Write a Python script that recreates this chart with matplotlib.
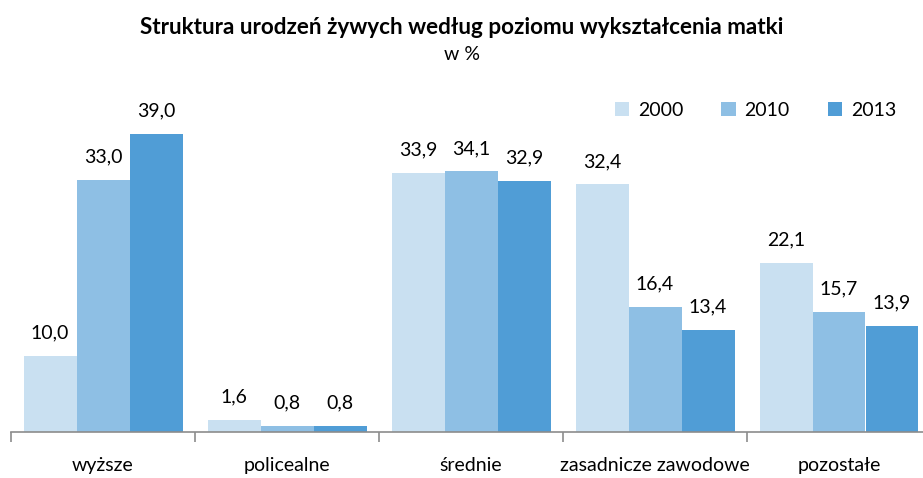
import matplotlib
matplotlib.use("Agg")
import matplotlib.pyplot as plt
import numpy as np

categories = ["wyższe", "policealne", "średnie", "zasadnicze zawodowe", "pozostałe"]
years = ["2000", "2010", "2013"]
v2000 = [10.0, 1.6, 33.9, 32.4, 22.1]
v2010 = [33.0, 0.8, 34.1, 16.4, 15.7]
v2013 = [39.0, 0.8, 32.9, 13.4, 13.9]
colors = ["#C9E0F1", "#8EBFE4", "#509DD6"]

plt.rcParams['font.family'] = ['Lato', 'DejaVu Sans']

W, H = 923, 478
fig = plt.figure(figsize=(W/100, H/100), dpi=100)
left_px, right_px = 11, 931
top_px, base_px = 70, 432
ax = fig.add_axes([left_px/W, 1 - base_px/H, (right_px-left_px)/W, (base_px-top_px)/H])

x = np.arange(len(categories))
bw = 53/184
series = [v2000, v2010, v2013]
for i, (vals, c, yr) in enumerate(zip(series, colors, years)):
    pos = x + (i - 1) * bw
    ax.bar(pos, vals, width=bw, color=c, label=yr, linewidth=0)
    for px_, v in zip(pos, vals):
        ax.text(px_, v + 1.9, f"{v:.1f}".replace(".", ","), ha="center", va="bottom",
                fontsize=14, color="#000000")

ax.set_xlim(-0.5, len(categories) - 0.5)
ax.set_ylim(0, (base_px - top_px) / (298/39))
for s in ["top", "right", "left"]:
    ax.spines[s].set_visible(False)
ax.spines["bottom"].set_color("#8C8C8C")
ax.spines["bottom"].set_linewidth(1.2)
ax.set_yticks([])
ax.set_xticks(np.arange(len(categories) + 1) - 0.5, minor=False)
ax.set_xticklabels([])
ax.tick_params(axis="x", which="major", length=7, color="#8C8C8C", width=1.2)
ax.set_xticks(x, minor=True)
ax.set_xticklabels(categories, minor=True, fontsize=14)
ax.tick_params(axis="x", which="minor", length=0, pad=18)

leg = fig.legend(loc="upper left", bbox_to_anchor=(597/W, 1 - 84/H), ncol=3, frameon=False,
                 fontsize=14, handlelength=0.75, handleheight=0.75, columnspacing=1.95,
                 handletextpad=0.45)

fig.text(0.5, 1 - 27/H, "Struktura urodzeń żywych według poziomu wykształcenia matki",
         ha="center", va="center", fontsize=16.2, fontweight="bold")
fig.text(0.5, 1 - 54/H, "w %", ha="center", va="center", fontsize=14)

fig.savefig("out.png", dpi=100)
